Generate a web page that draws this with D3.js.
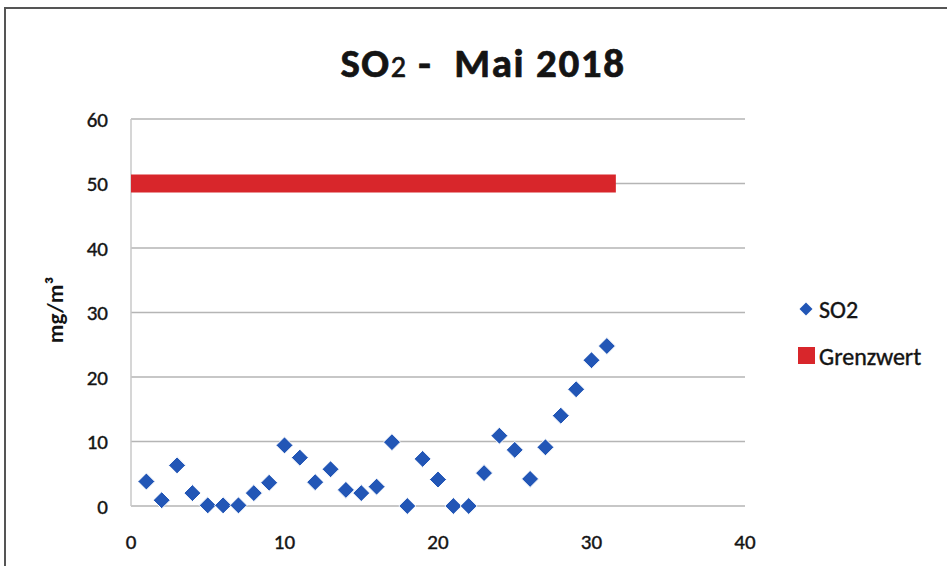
<!DOCTYPE html>
<html><head><meta charset="utf-8">
<script src="https://cdn.jsdelivr.net/npm/d3@7"></script>
<style>body{margin:0;background:#fff}svg{display:block}text{font-family:Carlito,Lato,"Open Sans",sans-serif;white-space:pre}</style>
</head><body><svg id="c" width="947" height="566"></svg>
<script>
const days = [1,2,3,4,5,6,7,8,9,10,11,12,13,14,15,16,17,18,19,20,21,22,23,24,25,26,27,28,29,30,31];
const so2 = [3.8,0.9,6.3,2.0,0.1,0.1,0.1,2.0,3.6,9.4,7.5,3.7,5.7,2.5,2.0,3.0,9.9,0.0,7.3,4.1,0.0,0.0,5.1,10.9,8.7,4.2,9.1,14.0,18.1,22.6,24.8];
const limitX = [0,31];
const limitY = [50,50];
const xTicks = [0,10,20,30,40];
const yTicks = [0,10,20,30,40,50,60];
const seriesNames = ["SO2","Grenzwert"];

const svg = d3.select("#c");
const x = d3.scaleLinear().domain([0,40]).range([131,745]);
const y = d3.scaleLinear().domain([0,60]).range([506,119]);
const ink = "#141414";

// frame
svg.append("path").attr("d","M5,566 L5,8 L947,8").attr("fill","none").attr("stroke","#555").attr("stroke-width",2);

// title
const t = svg.append("text").attr("x",483).attr("y",77).attr("text-anchor","middle")
  .attr("font-weight","bold").attr("font-size",41).attr("letter-spacing",1.6)
  .attr("fill",ink).attr("stroke",ink).attr("stroke-width",0.7);
t.append("tspan").text("SO");
t.append("tspan").attr("font-size",30).attr("font-weight","normal").text("2");
t.append("tspan").text(" -  Mai 2018");

// gridlines
svg.append("g").selectAll("line").data(yTicks).join("line")
  .attr("x1",x(0)).attr("x2",x(40)).attr("y1",d=>y(d)).attr("y2",d=>y(d))
  .attr("stroke","#b5b5b5").attr("stroke-width",1.5);
svg.append("line").attr("x1",x(0)).attr("x2",x(0)).attr("y1",y(0)).attr("y2",y(60))
  .attr("stroke","#c8c8c8").attr("stroke-width",1.5);

// axes labels
svg.append("g").selectAll("text").data(yTicks).join("text")
  .attr("x",108).attr("y",d=>y(d)).attr("dy","0.36em").attr("text-anchor","end")
  .attr("font-size",21).attr("fill",ink).attr("stroke",ink).attr("stroke-width",0.4).text(d=>d);
svg.append("g").selectAll("text").data(xTicks).join("text")
  .attr("x",d=>x(d)).attr("y",541).attr("dy","0.36em").attr("text-anchor","middle")
  .attr("font-size",21).attr("fill",ink).attr("stroke",ink).attr("stroke-width",0.4).text(d=>d);

svg.append("text").attr("transform","translate(63,310) rotate(-90)").attr("text-anchor","middle")
  .attr("font-weight","bold").attr("font-size",23).attr("fill",ink).text("mg/m³");

// limit line
svg.append("clipPath").attr("id","pc").append("rect").attr("x",x(0)).attr("y",y(60)-20).attr("width",x(40)-x(0)).attr("height",y(0)-y(60)+40);
svg.append("path").attr("clip-path","url(#pc)")
  .attr("d",d3.line().x(d=>x(d[0])).y(d=>y(d[1]))(limitX.map((v,i)=>[v,limitY[i]])))
  .attr("stroke","#d8262b").attr("stroke-width",18).attr("stroke-linecap","square").attr("fill","none");

// points
const diamond = (cx,cy,r)=>`M${cx},${cy-r}L${cx+r},${cy}L${cx},${cy+r}L${cx-r},${cy}Z`;
svg.append("g").selectAll("path").data(days).join("path")
  .attr("d",(d,i)=>diamond(x(d),y(so2[i]),8.5))
  .attr("fill","#2256b6").attr("stroke","#fff").attr("stroke-width",1);

// legend
const lg = svg.append("g");
lg.append("path").attr("d",diamond(806,309,6.5)).attr("fill","#2256b6");
lg.append("text").attr("x",819).attr("y",309).attr("dy","0.36em").attr("font-size",24).attr("fill",ink).attr("stroke",ink).attr("stroke-width",0.4).text(seriesNames[0]);
lg.append("rect").attr("x",798).attr("y",347).attr("width",17).attr("height",17).attr("fill","#d8262b");
lg.append("text").attr("x",819).attr("y",356).attr("dy","0.36em").attr("font-size",24).attr("fill",ink).attr("stroke",ink).attr("stroke-width",0.4).text(seriesNames[1]);
</script></body></html>
